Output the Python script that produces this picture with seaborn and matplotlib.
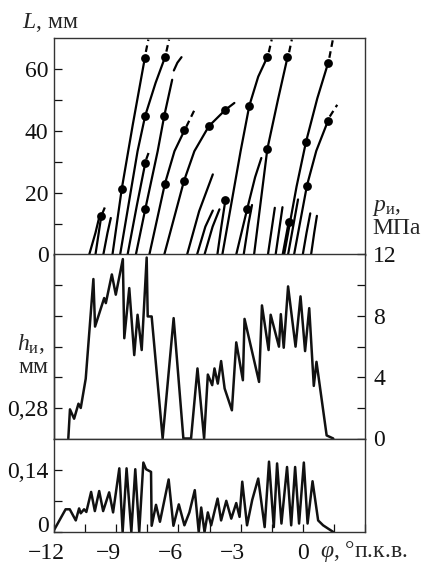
import matplotlib
matplotlib.use("Agg")
import matplotlib.pyplot as plt
import matplotlib.transforms as mtransforms
import numpy as np
import pandas as pd
import seaborn as sns

# --- верхняя панель: длина струи L (мм) от угла phi (град п.к.в.) ---
jet_phi = [
    [-10.30, -10.00, -9.82],
    [-10.00, -9.82, -9.72],
    [-9.62, -9.42, -9.26],
    [-9.18, -8.73, -8.20, -7.62],
    [-8.81, -7.97, -7.60, -7.10, -6.65],
    [-8.45, -8.00, -7.60],
    [-8.05, -7.60, -7.00, -6.68, -6.30],
    [-6.22, -6.05, -5.85],
    [-7.40, -6.65, -6.19, -5.71],
    [-6.68, -5.73, -5.23, -4.53, -3.73, -3.30],
    [-5.58, -5.00, -4.34],
    [-5.10, -4.70, -4.34],
    [-4.74, -4.35, -4.02],
    [-4.12, -3.93, -3.73],
    [-3.88, -3.00, -2.58, -2.15, -1.72],
    [-3.21, -2.68, -2.30, -2.00],
    [-2.85, -2.62, -2.45],
    [-2.35, -1.71, -1.20, -0.74],
    [-1.68, -1.35],
    [-1.31, -0.98],
    [-0.97, -0.68],
    [-0.90, -0.30, 0.15, 0.70, 1.22],
    [-0.71, -0.23],
    [-0.42, 0.20, 0.65, 1.22],
    [0.00, 0.18, 0.36],
    [0.40, 0.55, 0.68],
]
jet_L = [
    [0, 7, 12],
    [0, 8, 12.4],
    [0, 7, 11.8],
    [0, 21.3, 42, 63.5],
    [0, 33.4, 44.9, 55.5, 63.7],
    [0, 16, 29.5],
    [0, 14.6, 33.4, 44.9, 56.5],
    [59.5, 62, 63.8],
    [0, 22.9, 33.4, 40.1],
    [0, 23.8, 33.4, 41.5, 46.8, 49],
    [0, 14, 25.9],
    [0, 9, 14.2],
    [0, 9, 14.6],
    [0, 9, 17.7],
    [0, 33.4, 48.1, 57.5, 63.7],
    [0, 14.8, 25, 31.2],
    [0, 10, 16],
    [0, 34.1, 50, 63.7],
    [0, 15.1],
    [0, 15.3],
    [0, 10.5],
    [0, 22, 36.3, 50.5, 61.9],
    [0, 17.8],
    [0, 22.3, 33.5, 43.3],
    [0, 7, 13.3],
    [0, 7, 12.5],
]

# штриховые продолжения
tail_phi = [[-9.66, -9.55], [-7.57, -7.45], [-6.58, -6.45], [-7.55, -7.42],
            [-5.62, -5.22], [-1.64, -1.50], [-0.66, -0.53], [1.28, 1.45],
            [1.30, 1.66]]
tail_L = [[13.4, 15.2], [65.5, 69.5], [65.6, 69.5], [30.8, 33.2],
          [41.3, 46.8], [65.4, 69.5], [65.4, 69.5], [63.6, 69.5],
          [44.6, 48.4]]

# точки на струях
dot_phi = [-9.72, -8.73, -7.62, -7.60, -7.60, -7.60, -6.65, -6.68, -6.65,
           -5.71, -5.73, -4.53, -3.73, -3.73, -2.58, -2.68, -1.72, -1.71,
           -0.74, -0.68, 0.15, 0.20, 1.22, 1.22]
dot_L = [12.4, 21.3, 63.5, 44.9, 29.5, 14.6, 63.7, 44.9, 22.9,
         40.1, 23.8, 41.5, 46.8, 17.7, 48.1, 14.8, 63.7, 34.1,
         63.7, 10.5, 36.3, 22.3, 61.9, 43.3]

# --- средняя панель: давление p (МПа) ---
p_phi = [-11.31, -11.23, -11.03, -10.82, -10.71, -10.47, -10.10, -10.02,
         -9.58, -9.50, -9.21, -9.02, -8.68, -8.61, -8.37, -8.13, -7.97,
         -7.77, -7.53, -7.48, -7.29, -6.76, -6.23, -5.76, -5.39, -5.08,
         -4.76, -4.58, -4.37, -4.26, -4.10, -3.94, -3.77, -3.42, -3.21,
         -2.89, -2.81, -2.11, -1.97, -1.65, -1.55, -1.15, -1.06, -0.92,
         -0.71, -0.35, -0.11, 0.11, 0.31, 0.53, 0.66, 1.15, 1.47]
p_val = [0, 1.9, 1.29, 2.27, 1.99, 3.9, 10.4, 7.3,
         9.16, 8.83, 10.7, 9.38, 11.7, 6.54, 9.81, 5.44, 8.07,
         5.77, 11.8, 7.96, 7.96, 0, 7.85, 0, 0, 4.57,
         0, 4.17, 3.48, 4.57, 3.58, 5.05, 3.26, 1.84, 6.27,
         3.8, 7.8, 3.69, 8.68, 5.77, 8.07, 5.99, 8.11, 5.92,
         9.92, 5.99, 9.27, 5.7, 8.5, 3.43, 5.0, 0.2, 0]

# --- нижняя панель: ход иглы h (мм) ---
h_phi = [-12.05, -11.44, -11.24, -10.95, -10.79, -10.71, -10.55, -10.44,
         -10.21, -10.03, -9.82, -9.63, -9.34, -9.15, -8.85, -8.69, -8.50,
         -8.27, -8.08, -7.89, -7.69, -7.56, -7.32, -7.29, -7.08, -6.89,
         -6.47, -6.24, -5.98, -5.71, -5.47, -5.21, -5.02, -4.90, -4.74,
         -4.58, -4.42, -4.11, -3.94, -3.69, -3.45, -3.21, -3.05, -2.92,
         -2.69, -2.44, -2.15, -1.84, -1.63, -1.40, -1.24, -1.03, -0.76,
         -0.56, -0.37, -0.18, 0.05, 0.23, 0.47, 0.74, 0.98, 1.47]
h_val = [0, 0.051, 0.051, 0.026, 0.053, 0.042, 0.051, 0.045,
         0.090, 0.047, 0.092, 0.047, 0.089, 0.044, 0.143, 0, 0.143,
         0, 0.141, 0, 0.156, 0.141, 0.135, 0.014, 0.061, 0.023,
         0.118, 0.014, 0.062, 0.015, 0.044, 0.094, 0, 0.055, 0,
         0.044, 0.015, 0.075, 0.026, 0.070, 0.030, 0.065, 0.034, 0.113,
         0.015, 0.072, 0.120, 0.011, 0.158, 0.011, 0.154, 0.019, 0.146,
         0.015, 0.146, 0.019, 0.156, 0.019, 0.114, 0.026, 0.015, 0]

x_ticks = [-12, -10.5, -9, -7.5, -6, -4.5, -3, -1.5, 0, 1.5, 3]
x_labels = ["\u221212", "", "\u22129", "", "\u22126", "", "\u22123", "", "0", "", ""]


def to_frame(phis, vals, name):
    rows = []
    for i, (xs, ys) in enumerate(zip(phis, vals)):
        for x, y in zip(xs, ys):
            rows.append({"phi": x, name: y, "unit": i})
    return pd.DataFrame(rows)


sns.set_theme(style="ticks")
plt.rcParams["font.family"] = ["Liberation Serif", "DejaVu Serif"]
plt.rcParams["mathtext.fontset"] = "custom"
plt.rcParams["mathtext.rm"] = "Liberation Serif"
plt.rcParams["mathtext.it"] = "Liberation Serif:italic"
plt.rcParams["axes.edgecolor"] = "#333333"
plt.rcParams["axes.linewidth"] = 1.0

FS = 17
fig = plt.figure(figsize=(4.25, 5.64), dpi=100)
left, width = 54 / 425, 311 / 425
ax_L = fig.add_axes([left, 1 - 254.5 / 564, width, 216.5 / 564])
ax_p = fig.add_axes([left, 1 - 438.5 / 564, width, 184 / 564])
ax_h = fig.add_axes([left, 1 - 532 / 564, width, 93.5 / 564])

# верх
jets = to_frame(jet_phi, jet_L, "L")
tails = to_frame(tail_phi, tail_L, "L")
sns.lineplot(data=jets, x="phi", y="L", units="unit", estimator=None,
             sort=False, color="black", lw=1.6, ax=ax_L)
sns.lineplot(data=tails, x="phi", y="L", units="unit", estimator=None,
             sort=False, color="black", lw=1.6, linestyle=(0, (3, 2)), ax=ax_L)
sns.scatterplot(x=dot_phi, y=dot_L, color="black", s=40, linewidth=0,
                zorder=5, ax=ax_L)
ax_L.set_xlim(-12, 3)
ax_L.set_ylim(0, 70)
ax_L.set_xticks([])
ax_L.set_yticks(range(0, 70, 10))
ax_L.set_yticklabels(["0", "", "20", "", "40", "", "60"])

# середина
sns.lineplot(x=p_phi, y=p_val, sort=False, estimator=None, color="#111111",
             lw=1.8, ax=ax_p)
ax_p.set_xlim(-12, 3)
ax_p.set_ylim(0, 12)
ax_p.set_xticks([])
ax_p.yaxis.tick_right()
ax_p.set_yticks(range(0, 13, 2))
ax_p.set_yticklabels(["0", "", "4", "", "8", "", "12"])
sec = ax_p.secondary_yaxis("left", functions=(lambda p: 0.21 + 0.035 * p,
                                              lambda h: (h - 0.21) / 0.035))
sec.set_yticks([0.28, 0.35, 0.42, 0.49, 0.56])
sec.set_yticklabels(["0,28", "", "", "", ""])
sec.tick_params(direction="in", length=6, width=0.9, labelsize=FS, pad=4,
                colors="#111111")

# низ
sns.lineplot(x=h_phi, y=h_val, sort=False, estimator=None, color="#111111",
             lw=1.8, ax=ax_h)
ax_h.set_xlim(-12, 3)
ax_h.set_ylim(0, 0.21)
ax_h.set_yticks([0, 0.07, 0.14])
ax_h.set_yticklabels(["0", "", "0,14"])
ax_h.set_xticks(x_ticks)
ax_h.set_xticklabels(x_labels)

for ax in (ax_L, ax_p, ax_h):
    ax.set_xlabel("")
    ax.set_ylabel("")
    ax.tick_params(direction="in", length=6, width=0.9, labelsize=FS, pad=4,
                   colors="#111111")
ax_p.tick_params(axis="y", left=False, right=True, labelleft=False,
                 labelright=True, pad=6)
ax_h.tick_params(axis="x", pad=8)

# сдвиг подписей с минусом влево
shift = mtransforms.ScaledTranslation(-8 / 100, 0, fig.dpi_scale_trans)
for tick, lab in zip(ax_h.xaxis.get_major_ticks(), x_labels):
    if lab.startswith("\u2212"):
        tick.label1.set_transform(tick.label1.get_transform() + shift)
ax_h.yaxis.get_major_ticks()[0].label1.set_verticalalignment("baseline")

fig.text(22 / 425, 1 - 28 / 564, "$L$, мм", fontsize=FS, va="baseline")
fig.text(372 / 425, 1 - 211 / 564, "$p_{\\mathrm{и}}$,", fontsize=FS,
         va="baseline")
fig.text(372 / 425, 1 - 234 / 564, "МПа", fontsize=FS, va="baseline")
fig.text(17 / 425, 1 - 350 / 564, "$h_{\\mathrm{и}}$,", fontsize=FS,
         va="baseline")
fig.text(18 / 425, 1 - 373 / 564, "мм", fontsize=FS, va="baseline")
fig.text(320 / 425, 1 - 557 / 564, "$\\varphi$, °п.к.в.", fontsize=FS,
         va="baseline")

fig.savefig("out.png", dpi=100)
